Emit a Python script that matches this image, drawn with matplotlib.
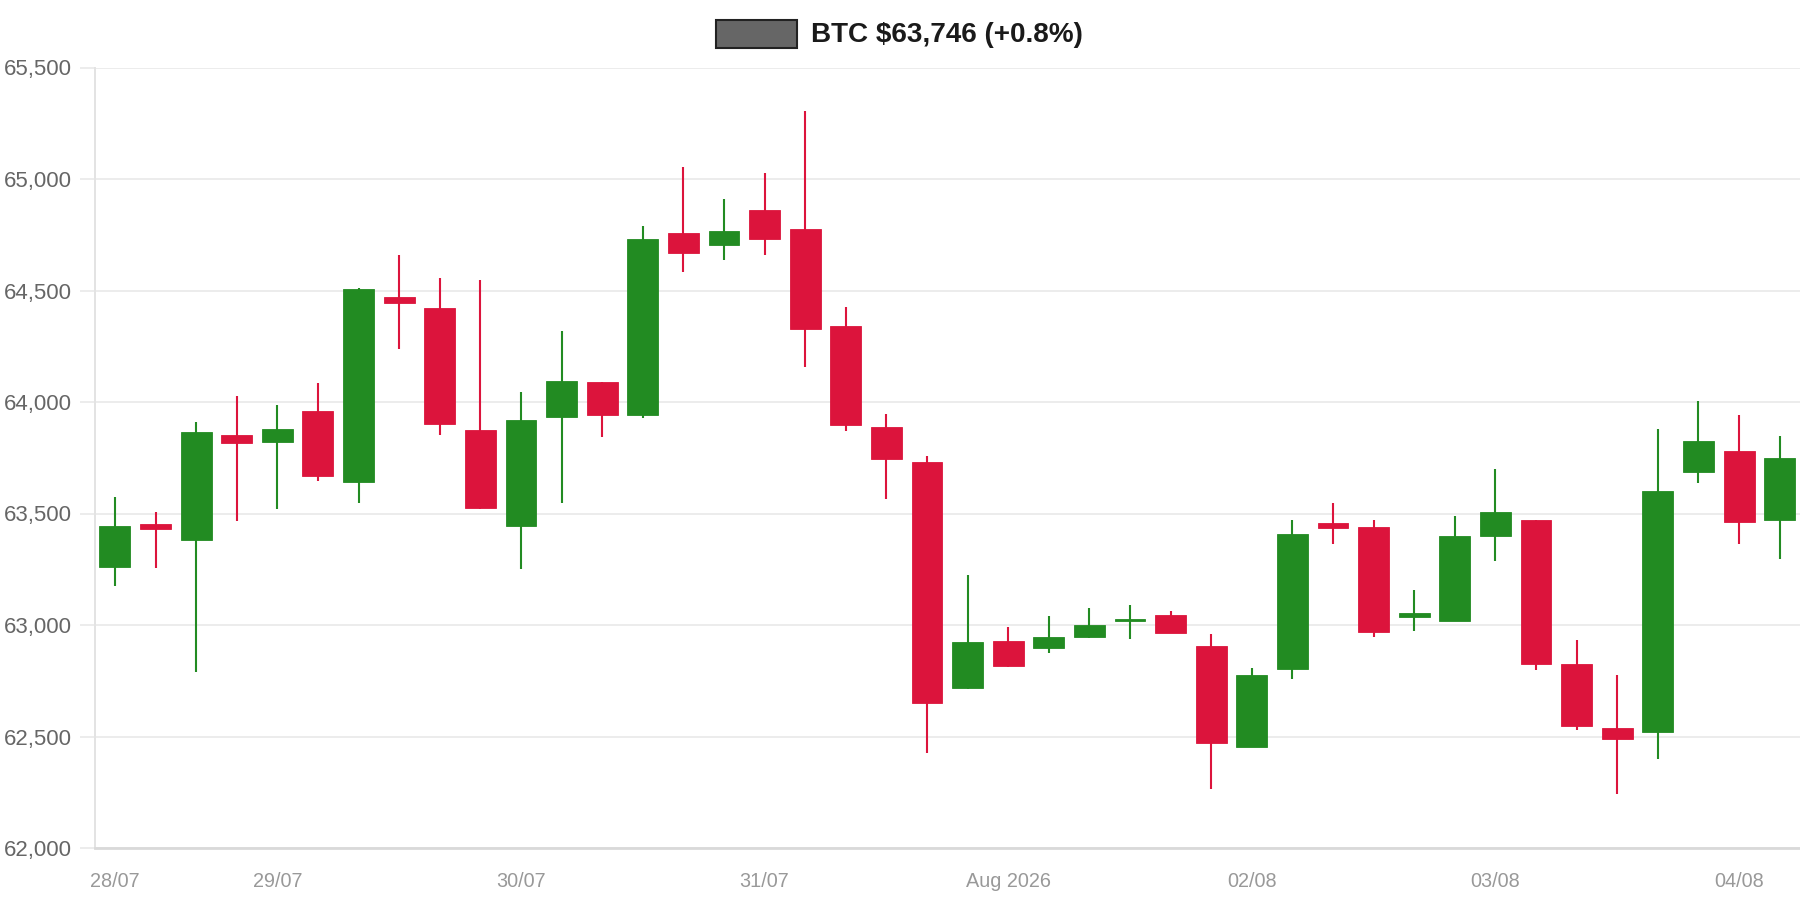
import matplotlib
matplotlib.use('Agg')
import matplotlib.pyplot as plt
from matplotlib.patches import Rectangle
from matplotlib.ticker import FuncFormatter

plt.rcParams['font.family'] = ['Liberation Sans', 'DejaVu Sans']

# 4h candles, 28/07 08:00 -> 04/08 04:00
opens = [63260, 63455, 63379, 63854, 63821, 63960, 63641, 64473, 64422, 63875,
         63444, 63931, 64088, 63940, 64758, 64704, 64859, 64778, 64343, 63888,
         63733, 62718, 62928, 62895, 62946, 63018, 63047, 62908, 62455, 62801,
         63458, 63440, 63034, 63020, 63399, 63469, 62824, 62537, 62519, 63685,
         63779, 63469]
highs = [63574, 63507, 63910, 64029, 63987, 64083, 64510, 64659, 64556, 64545,
         64043, 64318, 64090, 64787, 65054, 64910, 65027, 65303, 64428, 63944,
         63760, 63222, 62993, 63041, 63074, 63090, 63065, 62958, 62807, 63469,
         63547, 63469, 63159, 63491, 63700, 63469, 62931, 62776, 63878, 64004,
         63940, 63848]
lows = [63175, 63256, 62787, 63466, 63520, 63644, 63547, 64238, 63852, 63520,
        63249, 63549, 63845, 63928, 64581, 64639, 64661, 64155, 63870, 63567,
        62428, 62713, 62812, 62875, 62940, 62938, 62962, 62265, 62455, 62760,
        63363, 62944, 62971, 63016, 63289, 62798, 62527, 62243, 62397, 63639,
        63364, 63294]
closes = [63446, 63431, 63866, 63816, 63879, 63666, 64507, 64442, 63901, 63525,
          63919, 64092, 63940, 64731, 64666, 64769, 64729, 64327, 63895, 63745,
          62650, 62924, 62816, 62946, 62998, 63025, 62964, 62473, 62776, 63406,
          63437, 62969, 63056, 63399, 63505, 62823, 62545, 62490, 63599, 63827,
          63461, 63748]

tick_pos = [0, 4, 10, 16, 22, 28, 34, 40]
tick_labels = ['28/07', '29/07', '30/07', '31/07', 'Aug 2026', '02/08', '03/08', '04/08']

up_color = '#228B22'
down_color = '#DC143C'

fig = plt.figure(figsize=(18, 9), dpi=100)
ax = fig.add_axes([95 / 1800, 1 - 848 / 900, 1 - 95 / 1800, (848 - 67.5) / 900])

x = list(range(len(opens)))
colors = [up_color if c >= o else down_color for o, c in zip(opens, closes)]
bottoms = [min(o, c) for o, c in zip(opens, closes)]
heights = [max(abs(c - o), 6) for o, c in zip(opens, closes)]

ax.vlines(x, lows, highs, colors=colors, linewidth=1.5, zorder=2)
ax.bar(x, heights, bottom=bottoms, width=0.76, color=colors,
       edgecolor=colors, linewidth=0.6, zorder=3)

ax.set_xlim(-0.49, 41.5)
ax.set_ylim(62000, 65500)
ax.set_yticks(range(62000, 65501, 500))
ax.yaxis.set_major_formatter(FuncFormatter(lambda v, p: f'{int(v):,}'))
ax.set_xticks(tick_pos)
ax.set_xticklabels(tick_labels)

ax.grid(axis='y', color='#ebebeb', linewidth=1.3, zorder=0)
ax.set_axisbelow(True)
for s in ['top', 'right']:
    ax.spines[s].set_visible(False)
ax.spines['left'].set_color('#e3e3e3')
ax.spines['left'].set_linewidth(1.4)
ax.spines['bottom'].set_color('#d9d9d9')
ax.spines['bottom'].set_linewidth(2.0)

ax.tick_params(axis='y', length=11, width=1.3, color='#ebebeb', pad=6,
               labelsize=16, labelcolor='#666666')
ax.tick_params(axis='x', length=0, pad=17, labelsize=14.3, labelcolor='#999999')

# legend
fig.add_artist(Rectangle((716 / 1800, 1 - 48 / 900), 81 / 1800, 28.5 / 900,
                         transform=fig.transFigure, facecolor='#666666',
                         edgecolor='#222222', linewidth=1.5))
fig.text(811 / 1800, 1 - 34.5 / 900, 'BTC $63,746 (+0.8%)', fontsize=20.1,
         fontweight='bold', color='#1a1a1a', ha='left', va='center')

fig.savefig('out.png', dpi=100)
